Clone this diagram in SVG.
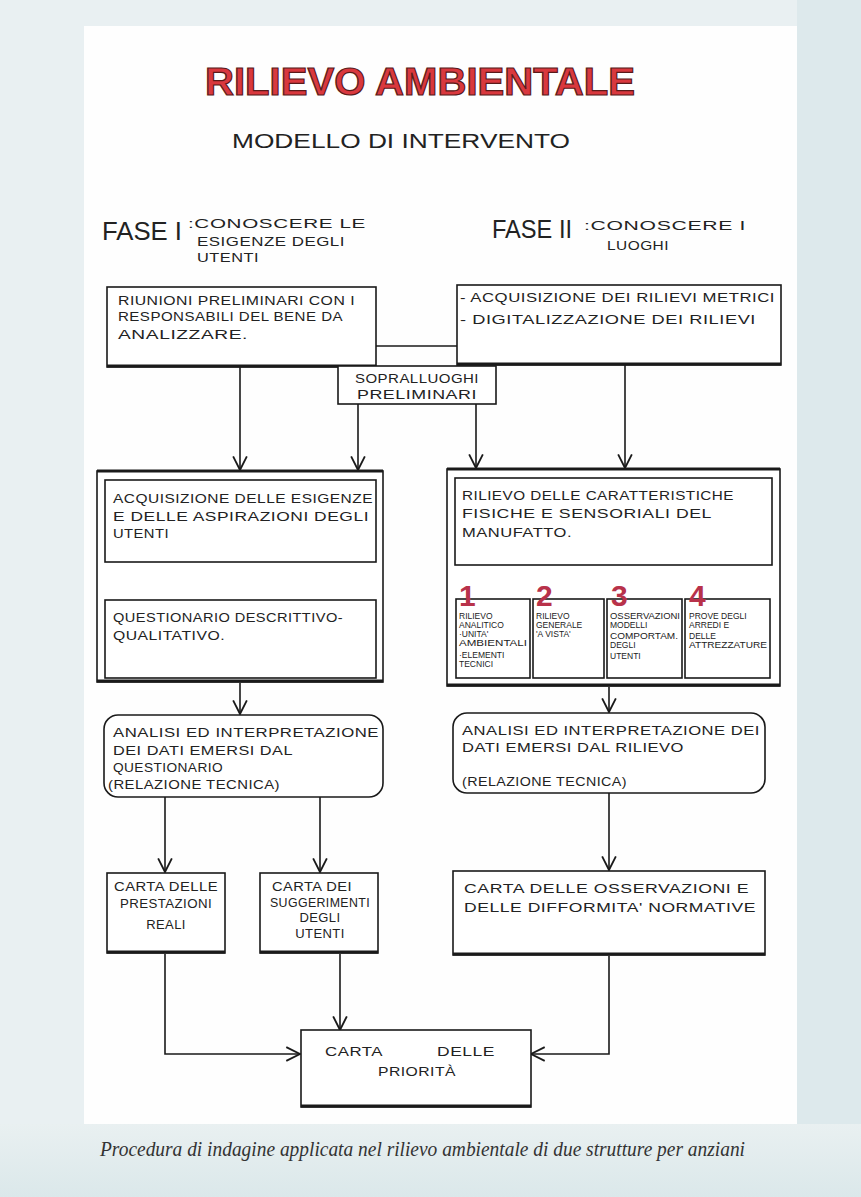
<svg xmlns="http://www.w3.org/2000/svg" width="861" height="1197" viewBox="0 0 861 1197">
<defs>
<style>
.t{font-family:"Liberation Sans",Arial,sans-serif;font-size:13px;fill:#222;letter-spacing:0.4px}
.s{font-family:"Liberation Sans",Arial,sans-serif;font-size:8.5px;fill:#222}
.n{font-family:"Liberation Sans",Arial,sans-serif;font-size:30px;font-weight:bold;fill:#b8324a}
.f{font-family:"Liberation Sans",Arial,sans-serif;font-size:26px;fill:#222}
.b{fill:#fff;stroke:#1a1a1a;stroke-width:1.6}
.sh{stroke:#1a1a1a;stroke-width:3;fill:none}
.c{fill:none;stroke:#1a1a1a;stroke-width:1.6}
.mid{text-anchor:middle}
</style>
<marker id="ar" viewBox="0 0 14 14" refX="13" refY="7" markerWidth="16" markerHeight="16" markerUnits="userSpaceOnUse" orient="auto">
<path d="M1,1 L13,7 L1,13" fill="none" stroke="#1a1a1a" stroke-width="1.6"/>
</marker>
<linearGradient id="cap" x1="0" y1="0" x2="0" y2="1">
<stop offset="0" stop-color="#e9f0f1"/>
<stop offset="1" stop-color="#dbe8ea"/>
</linearGradient>
</defs>
<rect x="0" y="0" width="861" height="1197" fill="#e9f0f2"/>
<rect x="797" y="0" width="64" height="1197" fill="#dde9ec"/>
<rect x="84" y="26" width="713" height="1100" fill="#fefefe"/>
<rect x="0" y="1124" width="861" height="73" fill="url(#cap)"/>

<g id="title">
<text x="420" y="95" text-anchor="middle" textLength="430" lengthAdjust="spacingAndGlyphs" style="font-family:'Liberation Sans',Arial,sans-serif;font-size:38px;font-weight:bold;fill:#d9383e;stroke:#5a1a1a;stroke-width:1.2">RILIEVO  AMBIENTALE</text>
<text x="401" y="148" text-anchor="middle" textLength="338" lengthAdjust="spacingAndGlyphs" style="font-family:'Liberation Sans',Arial,sans-serif;font-size:21px;fill:#222">MODELLO  DI  INTERVENTO</text>
</g>

<g id="fase1">
<text class="f" x="102" y="240" textLength="80" lengthAdjust="spacingAndGlyphs">FASE I</text>
<text class="t" x="188" y="228" textLength="178" lengthAdjust="spacingAndGlyphs">:CONOSCERE LE</text>
<text class="t" x="197" y="246" textLength="148" lengthAdjust="spacingAndGlyphs">ESIGENZE DEGLI</text>
<text class="t" x="197" y="262" textLength="62" lengthAdjust="spacingAndGlyphs">UTENTI</text>
</g>
<g id="fase2">
<text class="f" x="492" y="238" textLength="80" lengthAdjust="spacingAndGlyphs">FASE II</text>
<text class="t" x="584" y="230" textLength="162" lengthAdjust="spacingAndGlyphs">:CONOSCERE I</text>
<text class="t" x="607" y="250" textLength="62" lengthAdjust="spacingAndGlyphs">LUOGHI</text>
</g>

<g id="connectors">
<line class="c" x1="376" y1="346" x2="457" y2="346"/>
<line class="c" x1="240" y1="367" x2="240" y2="470" marker-end="url(#ar)"/>
<line class="c" x1="358" y1="404" x2="358" y2="470" marker-end="url(#ar)"/>
<line class="c" x1="476" y1="404" x2="476" y2="468" marker-end="url(#ar)"/>
<line class="c" x1="625" y1="365" x2="625" y2="468" marker-end="url(#ar)"/>
<line class="c" x1="240" y1="683" x2="240" y2="714" marker-end="url(#ar)"/>
<line class="c" x1="609" y1="687" x2="609" y2="712" marker-end="url(#ar)"/>
<line class="c" x1="165" y1="797" x2="165" y2="872" marker-end="url(#ar)"/>
<line class="c" x1="320" y1="797" x2="320" y2="872" marker-end="url(#ar)"/>
<line class="c" x1="609" y1="793" x2="609" y2="870" marker-end="url(#ar)"/>
<polyline class="c" points="165,954 165,1054 300,1054" marker-end="url(#ar)"/>
<line class="c" x1="340" y1="954" x2="340" y2="1030" marker-end="url(#ar)"/>
<polyline class="c" points="609,956 609,1054 531,1054" marker-end="url(#ar)"/>
</g>

<g id="riunioni">
<rect class="b" x="107" y="287" width="269" height="80"/>
<line class="sh" x1="107" y1="366" x2="376" y2="366"/>
<text class="t" x="118" y="305" textLength="237" lengthAdjust="spacingAndGlyphs">RIUNIONI PRELIMINARI CON I</text>
<text class="t" x="118" y="321" textLength="225" lengthAdjust="spacingAndGlyphs">RESPONSABILI DEL BENE DA</text>
<text class="t" x="118" y="339" textLength="130" lengthAdjust="spacingAndGlyphs">ANALIZZARE.</text>
</g>

<g id="rilievi-metrici">
<rect class="b" x="457" y="285" width="324" height="80"/>
<line class="sh" x1="457" y1="364" x2="781" y2="364"/>
<text class="t" x="460" y="302" textLength="315" lengthAdjust="spacingAndGlyphs">- ACQUISIZIONE DEI RILIEVI METRICI</text>
<text class="t" x="460" y="324" textLength="296" lengthAdjust="spacingAndGlyphs">- DIGITALIZZAZIONE DEI RILIEVI</text>
</g>

<g id="sopralluoghi">
<rect class="b" x="338" y="366" width="158" height="38"/>
<text class="t mid" x="417" y="383" textLength="124" lengthAdjust="spacingAndGlyphs">SOPRALLUOGHI</text>
<text class="t mid" x="417" y="399" textLength="120" lengthAdjust="spacingAndGlyphs">PRELIMINARI</text>
</g>

<g id="fase1-container">
<rect class="b" x="97" y="471" width="286" height="211"/>
<line class="sh" x1="97" y1="681" x2="383" y2="681"/>
<line class="sh" x1="97" y1="471" x2="383" y2="471"/>
<rect class="b" x="105" y="480" width="271" height="82"/>
<text class="t" x="113" y="503" textLength="260" lengthAdjust="spacingAndGlyphs">ACQUISIZIONE DELLE ESIGENZE</text>
<text class="t" x="113" y="521" textLength="256" lengthAdjust="spacingAndGlyphs">E DELLE ASPIRAZIONI DEGLI</text>
<text class="t" x="113" y="538" textLength="56" lengthAdjust="spacingAndGlyphs">UTENTI</text>
<rect class="b" x="105" y="600" width="271" height="78"/>
<text class="t" x="113" y="622" textLength="230" lengthAdjust="spacingAndGlyphs">QUESTIONARIO DESCRITTIVO-</text>
<text class="t" x="113" y="640" textLength="112" lengthAdjust="spacingAndGlyphs">QUALITATIVO.</text>
</g>

<g id="fase2-container">
<rect class="b" x="447" y="469" width="333" height="217"/>
<line class="sh" x1="447" y1="685" x2="780" y2="685"/>
<line class="sh" x1="447" y1="469" x2="780" y2="469"/>
<rect class="b" x="455" y="478" width="317" height="87"/>
<text class="t" x="462" y="500" textLength="272" lengthAdjust="spacingAndGlyphs">RILIEVO DELLE CARATTERISTICHE</text>
<text class="t" x="462" y="518" textLength="250" lengthAdjust="spacingAndGlyphs">FISICHE E SENSORIALI DEL</text>
<text class="t" x="462" y="537" textLength="110" lengthAdjust="spacingAndGlyphs">MANUFATTO.</text>
</g>

<g id="rilievo-1">
<rect class="b" x="456" y="599" width="74" height="79"/>
<text class="n" x="459" y="606">1</text>
<text class="s" x="459" y="619">RILIEVO</text>
<text class="s" x="459" y="628">ANALITICO</text>
<text class="s" x="459" y="637">·UNITA'</text>
<text class="s" x="459" y="646" textLength="68" lengthAdjust="spacingAndGlyphs">AMBIENTALI</text>
<text class="s" x="459" y="658">·ELEMENTI</text>
<text class="s" x="459" y="667">TECNICI</text>
</g>
<g id="rilievo-2">
<rect class="b" x="533" y="599" width="71" height="79"/>
<text class="n" x="536" y="606">2</text>
<text class="s" x="536" y="619">RILIEVO</text>
<text class="s" x="536" y="628">GENERALE</text>
<text class="s" x="536" y="637">'A VISTA'</text>
</g>
<g id="rilievo-3">
<rect class="b" x="607" y="599" width="75" height="79"/>
<text class="n" x="611" y="606">3</text>
<text class="s" x="610" y="619" textLength="70" lengthAdjust="spacingAndGlyphs">OSSERVAZIONI</text>
<text class="s" x="610" y="628">MODELLI</text>
<text class="s" x="610" y="639" textLength="68" lengthAdjust="spacingAndGlyphs">COMPORTAM.</text>
<text class="s" x="610" y="648">DEGLI</text>
<text class="s" x="610" y="659">UTENTI</text>
</g>
<g id="rilievo-4">
<rect class="b" x="685" y="599" width="85" height="79"/>
<text class="n" x="689" y="606">4</text>
<text class="s" x="689" y="619">PROVE DEGLI</text>
<text class="s" x="689" y="628">ARREDI E</text>
<text class="s" x="689" y="639">DELLE</text>
<text class="s" x="689" y="648" textLength="78" lengthAdjust="spacingAndGlyphs">ATTREZZATURE</text>
</g>

<g id="analisi-1">
<rect class="b" x="104" y="715" width="279" height="82" rx="14"/>
<text class="t" x="113" y="737" textLength="266" lengthAdjust="spacingAndGlyphs">ANALISI ED  INTERPRETAZIONE</text>
<text class="t" x="113" y="755" textLength="180" lengthAdjust="spacingAndGlyphs">DEI DATI EMERSI DAL</text>
<text class="t" x="113" y="772" textLength="110" lengthAdjust="spacingAndGlyphs">QUESTIONARIO</text>
<text class="t" x="108" y="789" textLength="172" lengthAdjust="spacingAndGlyphs">(RELAZIONE TECNICA)</text>
</g>
<g id="analisi-2">
<rect class="b" x="453" y="713" width="312" height="80" rx="14"/>
<text class="t" x="462" y="735" textLength="298" lengthAdjust="spacingAndGlyphs">ANALISI ED  INTERPRETAZIONE DEI</text>
<text class="t" x="462" y="752" textLength="222" lengthAdjust="spacingAndGlyphs">DATI EMERSI DAL RILIEVO</text>
<text class="t" x="462" y="786" textLength="165" lengthAdjust="spacingAndGlyphs">(RELAZIONE TECNICA)</text>
</g>

<g id="carta-prestazioni">
<rect class="b" x="107" y="873" width="118" height="80"/>
<line class="sh" x1="107" y1="952" x2="225" y2="952"/>
<text class="t mid" x="166" y="891" textLength="104" lengthAdjust="spacingAndGlyphs">CARTA DELLE</text>
<text class="t mid" x="166" y="908" textLength="92" lengthAdjust="spacingAndGlyphs">PRESTAZIONI</text>
<text class="t mid" x="166" y="929">REALI</text>
</g>
<g id="carta-suggerimenti">
<rect class="b" x="260" y="873" width="118" height="80"/>
<line class="sh" x1="260" y1="952" x2="378" y2="952"/>
<text class="t mid" x="312" y="891" textLength="80" lengthAdjust="spacingAndGlyphs">CARTA DEI</text>
<text class="t mid" x="320" y="907" textLength="100" lengthAdjust="spacingAndGlyphs">SUGGERIMENTI</text>
<text class="t mid" x="320" y="922">DEGLI</text>
<text class="t mid" x="320" y="938">UTENTI</text>
</g>
<g id="carta-osservazioni">
<rect class="b" x="453" y="871" width="312" height="84"/>
<line class="sh" x1="453" y1="954" x2="765" y2="954"/>
<text class="t" x="464" y="893" textLength="285" lengthAdjust="spacingAndGlyphs">CARTA  DELLE  OSSERVAZIONI E</text>
<text class="t" x="464" y="912" textLength="292" lengthAdjust="spacingAndGlyphs">DELLE  DIFFORMITA' NORMATIVE</text>
</g>

<g id="carta-priorita">
<rect class="b" x="301" y="1030" width="230" height="77"/>
<line class="sh" x1="301" y1="1106" x2="531" y2="1106"/>
<text class="t" x="325" y="1056" textLength="58" lengthAdjust="spacingAndGlyphs">CARTA</text>
<text class="t" x="437" y="1056" textLength="58" lengthAdjust="spacingAndGlyphs">DELLE</text>
<text class="t" x="378" y="1076" textLength="78" lengthAdjust="spacingAndGlyphs">PRIORITÀ</text>
</g>

<text x="100" y="1156" textLength="645" lengthAdjust="spacingAndGlyphs" style="font-family:'Liberation Serif','Times New Roman',serif;font-style:italic;font-size:20px;fill:#333">Procedura di indagine applicata nel rilievo ambientale di due strutture per anziani</text>
</svg>
